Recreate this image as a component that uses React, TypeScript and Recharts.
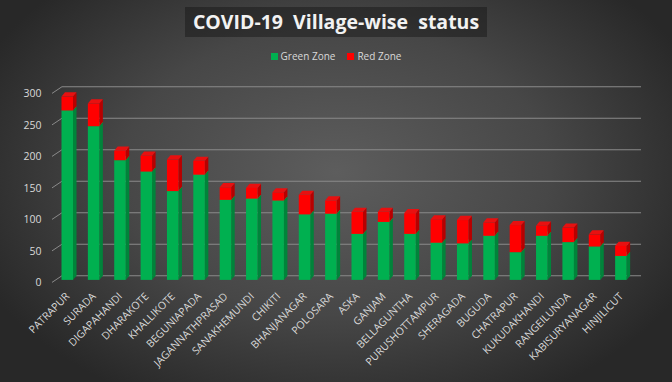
import React from 'react';
import { BarChart, Bar, XAxis, YAxis, CartesianGrid } from 'recharts';

const villages = [
    'PATRAPUR', 'SURADA', 'DIGAPAHANDI', 'DHARAKOTE', 'KHALLIKOTE', 'BEGUNIAPADA',
    'JAGANNATHPRASAD', 'SANAKHEMUNDI', 'CHIKITI', 'BHANJANAGAR', 'POLOSARA', 'ASKA',
    'GANJAM', 'BELLAGUNTHA', 'PURUSHOTTAMPUR', 'SHERAGADA', 'BUGUDA', 'CHATRAPUR',
    'KUKUDAKHANDI', 'RANGEILUNDA', 'KABISURYANAGAR', 'HINJILICUT'
];
const greenZone = [269, 244, 190, 172, 141, 167, 127, 129, 126, 104, 105, 73, 92, 73, 59, 58, 70, 44, 70, 60, 53, 38];
const redZone = [22, 36, 15, 25, 50, 22, 20, 17, 13, 31, 21, 35, 16, 33, 37, 37, 21, 43, 16, 23, 19, 16];
const yTicks = [0, 50, 100, 150, 200, 250, 300];

const chartData = villages.map((name, i) => ({ name, green: greenZone[i], red: redZone[i] }));

const FONT = '"Open Sans", sans-serif';
const LABEL = '#d9d9d9';
const DX = 3.5; // 3D depth offset
const DY = 4.2;

// bar drawn as a little 3D column: front face, side and top
const makeBox = (front: string, side: string, top: string) => (props: any) => {
    const { x, y, width, height } = props;
    if (!height || height <= 0) return <g />;
    const fx = x - DX;
    const fy = y + DY;
    return (
        <g>
            <polygon
                points={`${fx + width},${fy} ${x + width},${y} ${x + width},${y + height} ${fx + width},${fy + height}`}
                fill={side}
            />
            <polygon points={`${fx},${fy} ${x},${y} ${x + width},${y} ${fx + width},${fy}`} fill={top} />
            <rect x={fx} y={fy} width={width} height={height} fill={front} />
        </g>
    );
};

const GreenBox = makeBox('#00b050', '#00843a', '#12c260');
const RedBox = makeBox('#ff0000', '#b80000', '#e81010');

const GridLine = (props: any) => {
    const { x1, x2, y1, index } = props;
    return (
        <g key={`grid-${index}`}>
            <line x1={x1 + 4} y1={y1} x2={x2 + 3} y2={y1} stroke="#8a8a8a" strokeWidth={1.1} />
            <line x1={x1 - 6} y1={y1 + 6.7} x2={x1 + 4} y2={y1} stroke="#8a8a8a" strokeWidth={1} />
        </g>
    );
};

const YTick = ({ y, payload }: any) => (
    <text x={41.5} y={y + 6.5} textAnchor="end" dominantBaseline="central" fill={LABEL} fontSize={10.5} fontFamily={FONT}>
        {payload.value}
    </text>
);

const XTick = ({ x, payload }: any) => (
    <text
        transform={`translate(${x - 1},297) rotate(-45)`}
        textAnchor="end"
        fill={LABEL}
        fontSize={10.5}
        fontFamily={FONT}
    >
        {payload.value}
    </text>
);

export default function App() {
    return (
        <div
            style={{
                position: 'absolute',
                left: 0,
                top: 0,
                width: 672,
                height: 382,
                background: 'radial-gradient(ellipse 58% 68% at 50% 45%, #5d5d5d 0%, #474747 55%, #282828 100%)',
                fontFamily: FONT,
                overflow: 'hidden'
            }}
        >
            <div
                style={{
                    position: 'absolute',
                    left: 185,
                    top: 7,
                    width: 302,
                    height: 30,
                    background: 'rgba(20,20,20,0.45)',
                    color: '#f2f2f2',
                    fontWeight: 700,
                    fontSize: 19.5,
                    lineHeight: '30px',
                    textAlign: 'center',
                    whiteSpace: 'pre'
                }}
            >
                {'COVID-19  Village-wise  status'}
            </div>
            <div
                style={{
                    position: 'absolute',
                    left: 0,
                    top: 49,
                    width: 672,
                    display: 'flex',
                    justifyContent: 'center',
                    alignItems: 'center',
                    gap: 12,
                    fontSize: 10,
                    color: LABEL
                }}
            >
                <span style={{ display: 'flex', alignItems: 'center', gap: 3 }}>
                    <span style={{ width: 7, height: 7, background: '#00b050', display: 'inline-block' }} />
                    Green Zone
                </span>
                <span style={{ display: 'flex', alignItems: 'center', gap: 3 }}>
                    <span style={{ width: 7, height: 7, background: '#ff0000', display: 'inline-block' }} />
                    Red Zone
                </span>
            </div>
            <div style={{ position: 'absolute', left: 0, top: 0 }}>
                <BarChart
                    width={672}
                    height={382}
                    data={chartData}
                    margin={{ top: 86.7, right: 34, left: 0, bottom: 6.3 }}
                    barSize={11.5}
                >
                    <CartesianGrid vertical={false} horizontal={GridLine} />
                    <XAxis dataKey="name" interval={0} axisLine={false} tickLine={false} height={100} tick={XTick} />
                    <YAxis
                        domain={[0, 300]}
                        ticks={yTicks}
                        width={58}
                        axisLine={false}
                        tickLine={false}
                        tick={YTick}
                    />
                    <Bar dataKey="green" stackId="z" shape={GreenBox} isAnimationActive={false} />
                    <Bar dataKey="red" stackId="z" shape={RedBox} isAnimationActive={false} />
                </BarChart>
            </div>
        </div>
    );
}
